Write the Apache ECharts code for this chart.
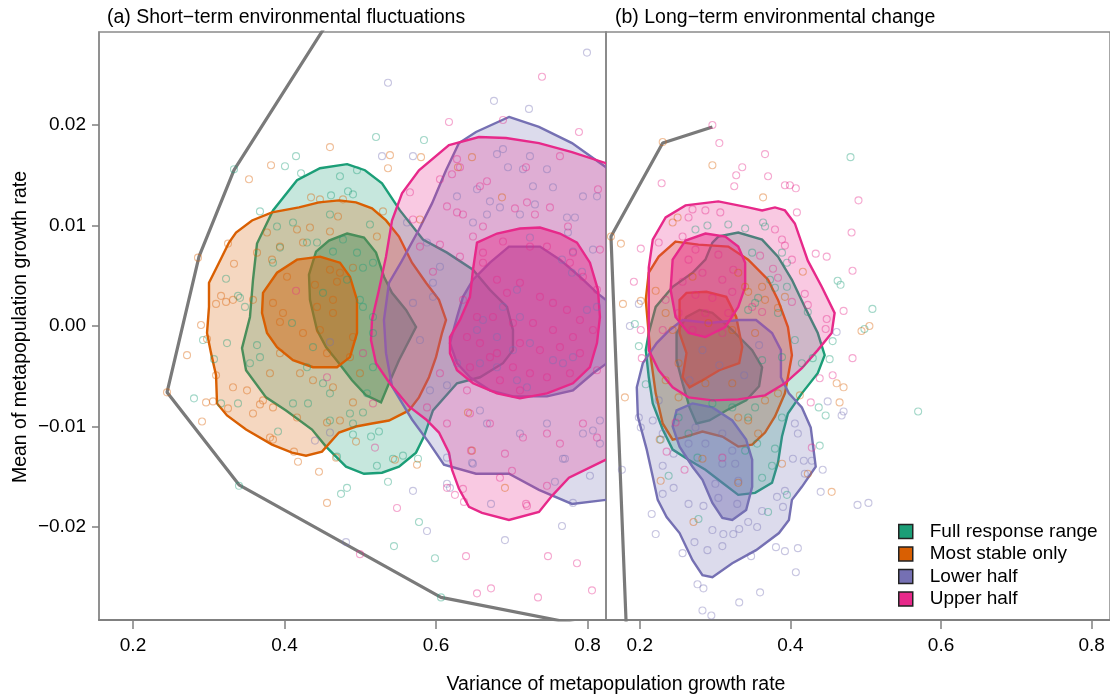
<!DOCTYPE html>
<html>
<head>
<meta charset="utf-8">
<script src="https://cdn.jsdelivr.net/npm/echarts@6/dist/echarts.min.js"></script>
<style>
  html, body { margin: 0; padding: 0; background: #fff; }
  #chart { width: 1110px; height: 698px; }
</style>
</head>
<body>
<div id="chart"></div>
<script>
// ---- data ----
const groups = ['Full response range', 'Most stable only', 'Lower half', 'Upper half'];
const xTicks = [0.2, 0.4, 0.6, 0.8];
const yTicks = [-0.02, -0.01, 0, 0.01, 0.02];

// efficient frontier lines
const lineA = [[.4798,.0329],[.3333,.0155],[.2871,.0069],[.2449,-.0066],[.3399,-.0158],[.6066,-.027],[.8164,-.0301]];
const lineB = [[.1828,-.0314],[.1617,.0089],[.2304,.0182],[.2964,.0198]];

// (a) contours: outer and inner
const aGreenOuter = [[.4825,.0161],[.5062,.0155],[.5287,.0142],[.5524,.0115],[.5828,.0086],[.6145,.0073],[.6488,.0056],[.6712,.0036],[.6937,.0019],[.7016,-.0004],[.7016,-.0024],[.6884,-.0037],[.658,-.0051],[.6277,-.0057],[.596,-.0084],[.5841,-.011],[.5736,-.0126],[.5511,-.014],[.5287,-.0146],[.5049,-.0147],[.4812,-.014],[.4548,-.012],[.4363,-.0103],[.402,-.0084],[.3756,-.0071],[.3492,-.0044],[.3439,-.0022],[.3544,.0009],[.3584,.0046],[.3637,.0082],[.3848,.0115],[.4165,.0145],[.4468,.0157]];
const aGreenInner = [[.4825,.0092],[.5049,.0088],[.5208,.0073],[.5313,.0049],[.5419,.0033],[.5604,.0016],[.5736,-.0001],[.5511,-.0034],[.5379,-.0057],[.5274,-.0076],[.5076,-.0069],[.4891,-.0054],[.4719,-.0037],[.4548,-.0021],[.4429,-.0004],[.4336,.0026],[.4323,.0051],[.4416,.0074],[.4587,.0085]];
const aOrangeOuter = [[.4719,.0125],[.4944,.0123],[.5155,.0117],[.534,.0105],[.5511,.0089],[.5683,.0063],[.5868,.0043],[.6039,.0026],[.6132,.0006],[.6079,-.0007],[.6,-.0031],[.5907,-.0051],[.5775,-.0071],[.5643,-.0084],[.5379,-.0094],[.5155,-.0097],[.4944,-.01],[.4719,-.0106],[.4495,-.0125],[.4284,-.0129],[.4099,-.0126],[.3835,-.0118],[.3492,-.0103],[.3241,-.0089],[.3109,-.0077],[.3096,-.0049],[.303,-.0027],[.2977,-.0007],[.3003,.0019],[.3003,.0043],[.3135,.0063],[.3267,.0083],[.336,.0093],[.3571,.0105],[.3835,.0113],[.4191,.0118],[.4455,.0123]];
const aOrangeInner = [[.4468,.0069],[.4732,.0063],[.4864,.0049],[.4957,.0026],[.4957,-.0007],[.4864,-.0031],[.4693,-.0041],[.4376,-.0041],[.4112,-.0034],[.3901,-.0021],[.3769,-.0007],[.3703,.0013],[.3716,.0033],[.3901,.0053],[.4165,.0066]];
const aPurpleOuter = [[.6963,.0208],[.7359,.0198],[.7795,.0182],[.8244,.0158],[.8692,.0115],[.8824,-.0024],[.8692,-.0171],[.8244,-.0173],[.7795,-.0177],[.7359,-.0163],[.6963,-.0147],[.6528,-.0147],[.6105,-.0138],[.5907,-.0116],[.5683,-.0093],[.5419,-.006],[.534,-.0027],[.5313,.0006],[.5379,.0043],[.5551,.0065],[.5775,.0096],[.5947,.0122],[.6132,.0155],[.6303,.0182],[.6528,.0193]];
const aPurpleInner = [[.6963,.0079],[.7372,.0079],[.7636,.0066],[.79,.0049],[.8125,.0033],[.8494,.0011],[.8494,-.0024],[.8257,-.0037],[.8072,-.0047],[.7808,-.0064],[.7465,-.007],[.7016,-.007],[.6712,-.0064],[.6448,-.0051],[.6277,-.0037],[.6184,-.0017],[.6277,.0009],[.6356,.0029],[.6488,.0046],[.6712,.0063]];
const aPinkOuter = [[.6171,.018],[.6567,.0188],[.6924,.0187],[.7359,.0182],[.7795,.0173],[.8244,.0162],[.8692,.0125],[.8798,-.0014],[.8692,-.0113],[.8244,-.0133],[.7755,-.0151],[.7531,-.0169],[.7359,-.0185],[.6963,-.0193],[.6607,-.0186],[.6435,-.018],[.6303,-.0162],[.6211,-.0143],[.6171,-.0126],[.6039,-.0106],[.5868,-.0093],[.5643,-.008],[.5379,-.0056],[.5208,-.0037],[.5142,-.0014],[.5155,.0006],[.5247,.0036],[.534,.0069],[.5419,.0105],[.5551,.0132],[.5775,.0155]];
const aPinkInner = [[.6541,.0083],[.6805,.0092],[.7108,.0097],[.7372,.0098],[.7636,.0092],[.7861,.0083],[.8032,.0063],[.8138,.0036],[.8164,.0009],[.8125,-.0017],[.8032,-.0041],[.7808,-.0057],[.7465,-.0067],[.7108,-.0072],[.6805,-.0067],[.6488,-.0057],[.6277,-.0044],[.6184,-.0027],[.6184,-.0011],[.6316,.0006],[.6448,.0029],[.6488,.0056]];

// (b) contours
const bGreenOuter = [[.3043,.0089],[.3307,.0093],[.3624,.0086],[.3835,.0069],[.402,.0046],[.4191,.0019],[.4363,-.0007],[.4455,-.0029],[.4363,-.0047],[.4152,-.0067],[.3967,-.0087],[.3888,-.011],[.3835,-.0136],[.3756,-.0156],[.3531,-.0166],[.3307,-.0168],[.3096,-.0156],[.2871,-.0143],[.2647,-.0133],[.2436,-.0123],[.2304,-.0103],[.2172,-.0077],[.2119,-.0051],[.2079,-.0024],[.2119,-.0007],[.2211,.0019],[.2436,.0039],[.27,.0053],[.2871,.0066],[.2964,.0083]];
const bGreenInner = [[.2792,.0016],[.2964,.0013],[.3228,-.0004],[.3492,-.0024],[.3624,-.0041],[.3584,-.006],[.3412,-.0074],[.3148,-.0084],[.2924,-.0094],[.2752,-.0097],[.266,-.0081],[.2568,-.0057],[.2488,-.0034],[.2488,-.0007],[.262,.0009]];
const bOrangeOuter = [[.2475,.0084],[.2779,.0081],[.3175,.0079],[.3439,.0066],[.3703,.0046],[.3835,.0026],[.3967,-.0001],[.402,-.0029],[.3927,-.0067],[.3795,-.009],[.3663,-.0106],[.3492,-.0118],[.3307,-.012],[.3096,-.011],[.2832,-.0105],[.2568,-.0111],[.2436,-.0113],[.2304,-.0097],[.2211,-.0067],[.2145,-.0031],[.2079,.0026],[.2119,.0053],[.2251,.0069]];
const bOrangeInner = [[.262,.0033],[.2884,.0034],[.3148,.0029],[.328,.0009],[.336,-.0021],[.332,-.0037],[.3056,-.0044],[.2832,-.0054],[.266,-.0061],[.2568,-.0051],[.262,-.0027],[.2528,-.0007],[.2528,.0026]];
const bPurpleOuter = [[.2568,.0006],[.2924,.0003],[.332,.0006],[.3544,.0006],[.3756,-.0007],[.3874,-.0024],[.3874,-.0051],[.398,-.0067],[.4152,-.0081],[.427,-.0101],[.4336,-.014],[.4152,-.016],[.402,-.0173],[.398,-.0193],[.3848,-.0206],[.3544,-.0223],[.3228,-.0236],[.2964,-.025],[.2832,-.0248],[.27,-.0233],[.2528,-.0206],[.2356,-.019],[.2238,-.0173],[.2172,-.015],[.2092,-.0123],[.1974,-.009],[.196,-.0061],[.204,-.0037],[.2224,-.0017],[.2396,-.0004]];
const bPurpleInner = [[.2488,-.0084],[.27,-.0077],[.2964,-.0081],[.3228,-.0094],[.3412,-.0113],[.3492,-.0133],[.3492,-.016],[.3412,-.0183],[.3228,-.0193],[.3096,-.0191],[.2964,-.0176],[.2832,-.0153],[.27,-.014],[.2528,-.012],[.2436,-.01]];
const bPinkOuter = [[.2172,.0086],[.2343,.0108],[.2607,.012],[.3043,.0124],[.3439,.0118],[.3624,.0115],[.3795,.0118],[.3927,.0115],[.4059,.0102],[.4231,.0065],[.4416,.0039],[.4587,.0013],[.4548,-.0007],[.4363,-.0024],[.4152,-.0042],[.3927,-.0057],[.3663,-.0069],[.3307,-.0073],[.2964,-.0074],[.2647,-.0071],[.2436,-.0061],[.2251,-.0044],[.2119,-.0024],[.2119,.0026],[.2119,.0058]];
const bPinkInner = [[.2871,.0092],[.3135,.0089],[.3307,.0079],[.3399,.0063],[.3399,.0039],[.3307,.0019],[.3135,-.0001],[.2871,-.0011],[.2647,-.0007],[.2475,.0009],[.2409,.0036],[.2436,.0066],[.2607,.0085]];

// (a) simulated portfolios
const aGreenPts = [[.5208,.0188],[.5841,.0185],[.4152,.0169],[.4006,.0159],[.3333,.0156],[.4218,.0152],[.4732,.0149],[.4957,.0155],[.3676,.0114],[.4614,.013],[.3228,.0047],[.3386,.003],[.2924,-.0014],[.3241,-.0017],[.3069,-.0033],[.2805,-.0072],[.3162,-.0077],[.3386,-.0077],[.3914,-.0105],[.4693,-.013],[.4904,-.0108],[.5142,-.011],[.5247,-.0105],[.522,-.0139],[.5564,-.0129],[.5762,-.0132],[.5366,-.0155],[.4825,-.0161],[.4746,-.0167],[.5775,-.0195],[.5445,-.0219],[.5986,-.0231],[.6066,-.027],[.3399,-.0159],[.4112,.0103],[.3901,.0099],[.46,.0111],[.4838,.0134],[.4904,.0131],[.3848,.0063],[.394,.0078],[.4297,.0083],[.4099,.0003],[.3412,.0028],[.3478,.0019],[.3637,-.0019],[.3676,-.0031],[.3544,-.0037],[.4376,-.0021],[.4297,-.0041],[.4508,-.0057],[.46,-.0067],[.4112,-.0077],[.431,-.0077],[.46,-.0094],[.4904,-.0097],[.5432,-.0132],[.4864,-.0087],[.5036,-.0086],[.5089,-.0067],[.5168,-.0041],[.5036,.0019],[.5168,-.0007],[.5168,.0009],[.4957,.0073],[.5036,.0058],[.5168,.0063],[.5128,.0101],[.4772,.0086],[.4429,.0083],[.464,.0074],[.4508,.0033],[.4825,.0046],[.4996,.0026]];
const aOrangePts = [[.46,.0178],[.5392,.017],[.5802,.0168],[.5366,.0157],[.3822,.016],[.3531,.0146],[.435,.0128],[.2858,.0068],[.3254,.0082],[.3333,.0062],[.3162,.003],[.3096,.0022],[.3228,.0024],[.2898,.0001],[.2977,-.0013],[.2713,-.0029],[.3096,-.0049],[.2449,-.0066],[.2964,-.0076],[.3056,-.0075],[.2911,-.0095],[.3254,-.0082],[.3584,-.0087],[.3676,-.0078],[.3808,-.0111],[.3848,-.0113],[.4125,-.0125],[.4178,-.0135],[.4455,-.0145],[.468,-.0131],[.4944,-.0115],[.5458,-.0133],[.5749,-.0138],[.4561,-.0176],[.3835,.0066],[.4033,.0049],[.3848,.0023],[.398,.0013],[.394,.0004],[.4244,-.0007],[.4402,.0041],[.464,.0026],[.4693,.0044],[.4732,.0053],[.4904,.0058],[.46,.0056],[.4429,.0019],[.464,.0013],[.4468,-.0004],[.4561,-.0027],[.4904,-.0011],[.4864,-.0031],[.394,-.0027],[.3808,-.0047],[.4204,-.0047],[.4376,-.0054],[.464,-.0061],[.4996,-.0047],[.4904,-.0076],[.4732,-.0094],[.4561,-.0096],[.4165,-.0091],[.3848,-.0081],[.3716,-.0074],[.3505,-.0064],[.332,-.0061],[.332,.0026],[.3584,.0026],[.3637,.0073],[.394,.0079],[.4244,.0083],[.4336,.0098],[.46,.0094],[.4706,.0109],[.4772,.0126],[.4468,.0126],[.4165,.0096],[.3769,.0093],[.53,.0114],[.522,.0089],[.5788,.0106],[.6475,.0168],[.629,.0158],[.6871,.0128],[.6475,-.0124],[.691,-.0161],[.6422,-.0086]];
const aPurplePts = [[.7993,.0272],[.5366,.0242],[.6765,.0224],[.7227,.0216],[.5287,.0169],[.5696,.0169],[.6805,.0171],[.6884,.0176],[.695,.0158],[.724,.0169],[.7465,.0156],[.728,.0139],[.7544,.0138],[.6277,.0129],[.6541,.0136],[.6712,.0124],[.6844,.0118],[.7108,.0111],[.7306,.0121],[.7729,.0108],[.7834,.0108],[.794,.0129],[.8125,.0129],[.6488,.0103],[.6673,.0111],[.724,.0088],[.7742,.0093],[.7808,.0074],[.8072,.0076],[.7663,.0066],[.7795,.0053],[.7927,.0054],[.7993,.0016],[.8125,.0019],[.7069,.0036],[.6884,.0019],[.7108,.0009],[.662,.0006],[.6541,-.0004],[.6805,-.0011],[.7016,-.0024],[.724,-.0017],[.7544,-.0034],[.7676,-.0037],[.7808,-.0031],[.658,-.0037],[.6805,-.0041],[.7069,-.0054],[.7201,-.0061],[.6145,-.0059],[.6277,-.0037],[.658,-.0084],[.6673,-.0097],[.7108,-.0107],[.7465,-.0097],[.794,-.0107],[.8072,-.0104],[.8164,-.0094],[.7676,-.0132],[.8032,-.0149],[.6488,-.0137],[.6145,-.0131],[.7808,-.0176],[.7663,-.0199],[.5881,-.0204],[.5696,-.0164],[.592,-.0064],[.5788,-.0014],[.5696,.0023],[.596,.0029],[.596,.0043],[.6052,.0059],[.5881,.0083],[.5617,.0103],[.8164,-.0117],[.7148,.0156],[.4402,-.0114],[.4812,-.0215],[.691,-.0213],[.6145,-.0157],[.6184,-.0161],[.6726,-.0177],[.757,-.0155],[.6475,-.0136],[.7702,-.0132],[.46,-.0106],[.46,-.0016]];
const aPinkPts = [[.4495,.0293],[.7399,.0248],[.6171,.0203],[.6884,.0205],[.7887,.0193],[.6277,.0166],[.6211,.0151],[.6052,.0146],[.6316,.0158],[.658,.0139],[.6673,.0144],[.7188,.0158],[.7636,.0169],[.8138,.0136],[.6145,.0119],[.6277,.0113],[.6356,.0111],[.662,.0099],[.7042,.0117],[.7201,.0123],[.7306,.0111],[.7504,.0118],[.7742,.0099],[.7808,.0073],[.8164,.0076],[.6052,.0081],[.596,.0054],[.6316,.0069],[.6488,.0089],[.662,.0073],[.6884,.0084],[.724,.0079],[.7465,.0079],[.7768,.0063],[.794,.0049],[.8125,.0036],[.7108,.0043],[.6805,.0046],[.662,.0063],[.6937,.0033],[.7372,.0029],[.7544,.0023],[.7729,.0016],[.79,.0006],[.8072,-.0004],[.6356,.0026],[.6541,.0009],[.6752,.0009],[.7016,.0003],[.728,.0003],[.7544,-.0004],[.7808,-.0011],[.6409,-.0011],[.658,-.0017],[.6805,-.0027],[.7108,-.0017],[.7372,-.0024],[.7636,-.0021],[.79,-.0027],[.6448,-.0041],[.6712,-.0031],[.7016,-.0041],[.724,-.0047],[.7465,-.0051],[.7768,-.0047],[.8125,-.0044],[.6844,-.0054],[.7108,-.0064],[.6409,-.0064],[.6052,-.0047],[.5881,-.0081],[.6145,-.0097],[.6448,-.0087],[.6712,-.0097],[.7148,-.0111],[.7465,-.0107],[.7636,-.0117],[.794,-.0097],[.8125,-.0111],[.691,-.0127],[.7003,-.0144],[.6356,-.0162],[.6844,-.0151],[.7201,-.0179],[.5485,-.0181],[.6145,-.0161],[.5788,.0079],[.5696,.0106],[.5656,.0133],[.5194,-.0121],[.4996,-.0227],[.6396,-.0229],[.7478,-.0229],[.7861,-.0236],[.6541,-.0266],[.6726,-.0261],[.7346,-.027],[.8059,-.0263],[.625,-.0168],[.6369,-.0175],[.7188,-.0177],[.7465,-.0159],[.6462,-.0124],[.4152,.0035],[.4561,-.0051],[.5168,-.0077],[.5036,-.0027]];

// (b) simulated portfolios
const bGreenPts = [[.4798,.0168],[.4627,.0045],[.4666,.0041],[.5089,.0017],[.4983,-.0003],[.4561,-.0015],[.1934,.0002],[.1987,-.002],[.3175,.0101],[.3637,.0103],[.3663,.0099],[.3399,.0097],[.3492,.0073],[.3954,.0063],[.4059,-.0014],[.4231,.0014],[.3888,.0073],[.3729,.0046],[.3571,.0028],[.3439,.0016],[.3835,.0013],[.3531,.0023],[.3795,.0038],[.3954,.0039],[.2739,.0096],[.2898,.01],[.5696,-.0085],[.4389,-.0119],[.4468,-.0089],[.4376,-.0081],[.3954,-.0168],[.3703,-.0185],[.2779,-.0192],[.2383,-.0149],[.2277,-.0113],[.2079,-.0058],[.3558,-.0117],[.3624,-.0151],[.3756,-.0139],[.3795,-.0122],[.3888,-.0091],[.3399,-.0124],[.3439,-.0091],[.3531,-.0081],[.3228,-.0081],[.2964,-.0077],[.2766,-.0131],[.2647,-.0107],[.2515,-.0091],[.3624,-.0034],[.3888,-.0031],[.4152,-.0037],[.4297,-.0032],[.4521,-.0033]];
const bOrangePts = [[.2964,.016],[.3637,.0128],[.1749,.0082],[.1776,.0022],[.2013,.0025],[.4165,.0054],[.4944,-.0005],[.5049,0],[.2211,.0035],[.2436,.0103],[.2502,.0108],[.27,.0049],[.3439,.0034],[.3624,.0039],[.3663,.0026],[.3835,.0018],[.3927,.0029],[.3307,.0053],[.3399,.0039],[.2343,.0013],[.2436,-.0004],[.2911,.0003],[.3228,-.0004],[.3531,-.0007],[.1802,-.0071],[.4614,-.0057],[.4706,-.0061],[.4653,-.0076],[.4231,-.0147],[.4548,-.0165],[.2713,-.0195],[.2277,-.0154],[.2264,-.0113],[.2832,-.0132],[.3307,-.0156],[.3571,-.0107],[.3439,-.0094],[.3307,-.0091],[.3663,-.0074],[.3835,-.0067],[.3228,-.0057],[.2871,-.0057],[.2515,-.0071],[.2343,-.0054],[.2515,-.0037],[.3888,-.0137],[.4125,-.0069],[.1617,.0089],[.2304,.0183]];
const bPurplePts = [[.1762,-.0143],[.2158,-.0187],[.2211,-.0207],[.2568,-.0226],[.2726,-.0215],[.2898,-.0223],[.2766,-.0257],[.2845,-.0261],[.2832,-.0283],[.295,-.0288],[.332,-.0275],[.3597,-.0265],[.4072,-.0245],[.4099,-.0221],[.3927,-.0224],[.3808,-.022],[.3478,-.0229],[.3096,-.0219],[.3109,-.0207],[.3241,-.0207],[.332,-.0202],[.3558,-.02],[.3439,-.0195],[.2964,-.0203],[.2647,-.0177],[.2845,-.0179],[.3043,-.0171],[.3294,-.0177],[.3624,-.0184],[.3822,-.017],[.3901,-.018],[.3927,-.0164],[.4033,-.0132],[.4178,-.0134],[.4284,-.0134],[.4429,-.0143],[.4402,-.0165],[.4891,-.0178],[.5036,-.0176],[.468,-.0089],[.4706,-.0085],[.4495,-.0075],[.4191,-.0147],[.2304,-.0167],[.2449,-.0161],[.2304,-.0139],[.2449,-.0127],[.2172,-.0094],[.2013,-.0101],[.1987,-.0091],[.2251,-.0074],[.2304,-.0107],[.3096,-.0137],[.3267,-.0137],[.3307,-.0154],[.3003,-.0157],[.2871,-.0117],[.3096,-.0107],[.3228,-.0124],[.2647,-.0117],[.2739,-.0101],[.4099,-.0107],[.4059,-.0097],[.4614,-.0006],[.1868,0],[.1987,.0022],[.2832,-.0024],[.3056,-.0039],[.3386,-.0049],[.3584,-.0019],[.266,-.0054]];
const bPinkPts = [[.2964,.02],[.3056,.0182],[.3663,.0171],[.229,.0142],[.336,.0158],[.328,.015],[.3703,.0149],[.3254,.0139],[.3927,.014],[.3993,.014],[.4072,.0137],[.4904,.0125],[.4812,.0093],[.4086,.0113],[.4336,.0072],[.4482,.0069],[.4825,.0055],[.4706,.0015],[.1921,.0044],[.2013,.0077],[.2013,-.0004],[.4482,.0007],[.4468,-.0003],[.4825,-.0032],[.27,.0116],[.3069,.0113],[.2871,.0115],[.2647,.0108],[.3795,.0096],[.3888,.0086],[.3927,.008],[.3597,.007],[.402,.0066],[.4191,.0032],[.4231,.0021],[.402,.0024],[.3835,.0048],[.3769,.0057],[.2568,.0089],[.2251,.0083],[.2739,.0076],[.3043,.0071],[.3241,.0056],[.2647,.0066],[.2832,.0053],[.3096,.0046],[.2568,.0044],[.2739,.0031],[.2964,.0028],[.3228,.0034],[.2343,.0026],[.2515,.0013],[.2871,.0013],[.3175,.0013],[.3492,.0019],[.3624,.0014],[.2304,-.0004],[.27,-.0004],[.3096,-.0007],[.4561,-.0049],[.4389,-.0052],[.427,-.0076],[.4284,-.0121],[.3096,-.0131],[.2594,-.0143],[.2356,-.0125],[.2026,-.0032],[.2475,-.0096]];

// ---- styles ----
const colors = ['#1B9E77', '#D95F02', '#7570B3', '#E7298A'];
const fillRGB = [[27,158,119],[217,95,2],[117,112,179],[231,41,138]];
const FONT = '"Liberation Sans", Arial, Helvetica, sans-serif';

const polysA = [[aGreenOuter, aGreenInner], [aOrangeOuter, aOrangeInner], [aPurpleOuter, aPurpleInner], [aPinkOuter, aPinkInner]];
const polysB = [[bGreenOuter, bGreenInner], [bOrangeOuter, bOrangeInner], [bPurpleOuter, bPurpleInner], [bPinkOuter, bPinkInner]];
const ptsA = [aGreenPts, aOrangePts, aPurplePts, aPinkPts];
const ptsB = [bGreenPts, bOrangePts, bPurplePts, bPinkPts];

function rgba(i, a) {
  const c = fillRGB[i];
  return 'rgba(' + c[0] + ',' + c[1] + ',' + c[2] + ',' + a + ')';
}

function contourSeries(polys, gi, panel) {
  return {
    type: 'custom',
    name: groups[gi],
    xAxisIndex: panel,
    yAxisIndex: panel,
    clip: true,
    silent: true,
    z: 3,
    data: polys.map(p => p[0]),
    renderItem: function (params, api) {
      const poly = polys[params.dataIndex];
      const pts = poly.map(p => api.coord(p));
      return {
        type: 'polygon',
        shape: { points: pts },
        style: {
          fill: rgba(gi, params.dataIndex === 0 ? 0.25 : 0.45),
          stroke: colors[gi],
          lineWidth: 2.4
        }
      };
    }
  };
}

function pointSeries(pts, gi, panel) {
  return {
    type: 'scatter',
    name: 'pts' + panel + gi,
    xAxisIndex: panel,
    yAxisIndex: panel,
    data: pts,
    symbol: 'circle',
    symbolSize: 7,
    silent: true,
    z: 5,
    itemStyle: { color: 'rgba(0,0,0,0)', borderColor: rgba(gi, 0.5), borderWidth: 1.1 }
  };
}

function frontier(data, panel) {
  return {
    type: 'line',
    name: 'frontier' + panel,
    xAxisIndex: panel,
    yAxisIndex: panel,
    data: data,
    symbol: 'none',
    clip: true,
    silent: true,
    z: 2,
    lineStyle: { color: '#7a7a7a', width: 3.2 }
  };
}

const series = [frontier(lineA, 0), frontier(lineB, 1)];
for (let g = 0; g < 4; g++) {
  series.push(contourSeries(polysA[g], g, 0));
  series.push(contourSeries(polysB[g], g, 1));
}
for (let g = 0; g < 4; g++) {
  series.push(pointSeries(ptsA[g], g, 0));
  series.push(pointSeries(ptsB[g], g, 1));
}

function xAxis(grid) {
  return {
    type: 'value', gridIndex: grid, min: 0.1551, max: 0.8244,
    splitLine: { show: false },
    axisLine: { show: true, onZero: false, lineStyle: { color: '#808080', width: 2 } },
    axisTick: { show: true, customValues: xTicks, length: 9, lineStyle: { color: '#808080', width: 1.5 } },
    axisLabel: { customValues: xTicks, margin: 16, fontSize: 19, color: '#000', fontFamily: FONT,
      formatter: v => v.toFixed(1) }
  };
}

function yAxis(grid) {
  const show = grid === 0;
  return {
    type: 'value', gridIndex: grid, min: -0.02925, max: 0.02925,
    splitLine: { show: false },
    axisLine: { show: true, onZero: false, lineStyle: { color: '#8a8a8a', width: 1.5 } },
    axisTick: { show: show, customValues: yTicks, length: 7, lineStyle: { color: '#808080', width: 1.5 } },
    axisLabel: { show: show, customValues: yTicks, margin: 13, fontSize: 19, color: '#000', fontFamily: FONT,
      formatter: v => (Math.abs(v) < 1e-9 ? '0.00' : (v < 0 ? '\u2212' + Math.abs(v).toFixed(2) : v.toFixed(2))) }
  };
}

const chart = echarts.init(document.getElementById('chart'), null, { renderer: 'canvas' });
chart.setOption({
  animation: false,
  backgroundColor: '#fff',
  grid: [
    { left: 99, top: 32, width: 507, height: 588, show: true, borderColor: '#8a8a8a', borderWidth: 1.5, backgroundColor: 'transparent' },
    { left: 606, top: 32, width: 507, height: 588, show: true, borderColor: '#8a8a8a', borderWidth: 1.5, backgroundColor: 'transparent' }
  ],
  xAxis: [xAxis(0), xAxis(1)],
  yAxis: [yAxis(0), yAxis(1)],
  legend: {
    orient: 'vertical',
    left: 893,
    top: 517,
    itemWidth: 14,
    itemHeight: 14,
    itemGap: 3.5,
    selectedMode: false,
    textStyle: { fontSize: 19, lineHeight: 19, color: '#000', fontFamily: FONT, padding: [0, 0, 0, 12] },
    data: groups.map((g, i) => ({
      name: g, icon: 'rect',
      itemStyle: { color: colors[i], borderColor: '#222', borderWidth: 1.5 }
    }))
  },
  graphic: [
    { type: 'text', left: 107, top: 8, style: { text: '(a) Short\u2212term environmental fluctuations', font: '19.5px ' + FONT, fill: '#000' } },
    { type: 'text', left: 615, top: 8, style: { text: '(b) Long\u2212term environmental change', font: '19.5px ' + FONT, fill: '#000' } },
    { type: 'text', x: 616, y: 685, style: { text: 'Variance of metapopulation growth rate', font: '19.5px ' + FONT, fill: '#000', textAlign: 'center', textVerticalAlign: 'middle' } },
    { type: 'text', x: 21, y: 327, rotation: Math.PI / 2, style: { text: 'Mean of metapopulation growth rate', font: '19.5px ' + FONT, fill: '#000', textAlign: 'center', textVerticalAlign: 'middle' } }
  ],
  series: series
});
</script>
</body>
</html>
